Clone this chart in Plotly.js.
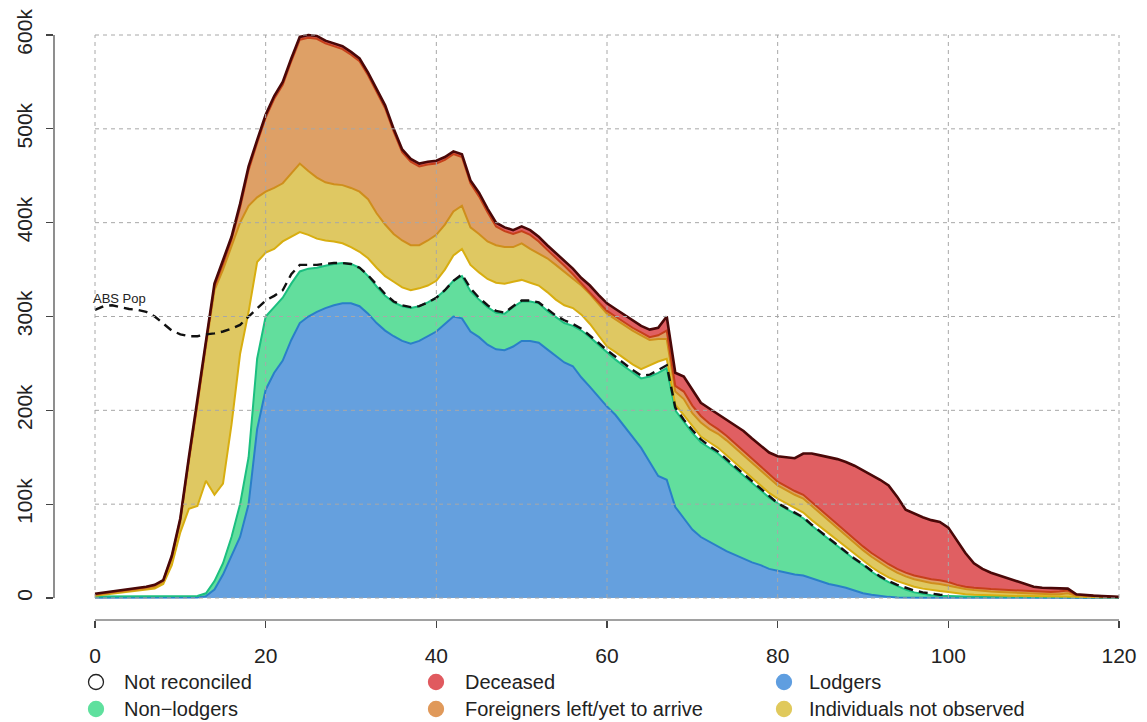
<!DOCTYPE html>
<html>
<head>
<meta charset="utf-8">
<script src="https://cdn.plot.ly/plotly-3.0.1.min.js"></script>
<style>
  html, body { margin: 0; padding: 0; background: #ffffff; }
  #chart { width: 1147px; height: 722px; }
</style>
</head>
<body>
<div id="chart"></div>
<script>
// Age in years
const ages = [0,1,2,3,4,5,6,7,8,9,10,11,12,13,14,15,16,17,18,19,20,
  21,22,23,24,25,26,27,28,29,30,31,32,33,34,35,36,37,38,39,40,
  41,42,43,44,45,46,47,48,49,50,51,52,53,54,55,56,57,58,59,60,
  61,62,63,64,65,66,67,68,69,70,71,72,73,74,75,76,77,78,79,80,
  81,82,83,84,85,86,87,88,89,90,91,92,93,94,95,96,97,98,99,100,
  101,102,103,104,105,106,107,108,109,110,111,112,113,114,115,116,117,118,119,120];

// Counts in thousands, stacked from bottom to top
const lodgers = [0.3,0.3,0.3,0.3,0.3,0.4,0.4,0.4,0.5,0.5,0.5,0.5,0.6,
  2,9,25,45,65,100,180,222,
  240,253,275,293,300,305,309,312,314,314,
  311,303,293,285,279,274,271,274,279,284,
  292,300,298,284,278,270,265,264,268,274,
  274,272,265,258,251,247,235,225,214,204,
  195,183,172,160,145,130,126,97,85,73,
  65,60,55,50,46,42,38,35,31,29,
  27,25,24,21,18,15,13,11,8,5,
  3.5,2,1.2,0.6,0.3,0.3,0.3,0.3,0.3,0.3,
  0.3,0.3,0.3,0.3,0.2,0.2,0.2,0.2,0.2,0.2,
  0.2,0.2,0.2,0.2,0.1,0.1,0.1,0.1,0.1,0.1];

const nonLodgers = [1.2,1.2,1.3,1.3,1.4,1.3,1.4,1.5,1.5,1.5,1.5,1.5,1.6,
  3,9,12,20,35,50,75,78,
  70,67,60,55,51,47,45,44,43,42,
  41,40,39,37,36,37,38,37,36,36,
  36,38,45,43,40,40,39,39,42,42,
  42,42,41,41,42,43,50,53,56,57,
  59,64,68,74,91,110,119,103,103,103,
  101,100,99,96,92,88,84,79,76,72,
  68,65,61,56,52,48,42,37,33,30,
  24.5,20,15.8,12.4,8.7,5.7,4.2,2.7,2.2,1.7,
  1.5,1.4,1.3,1.2,1.3,1.2,1.2,1.1,1.1,1.0,
  1.0,0.9,0.9,0.8,0.8,0.7,0.6,0.5,0.4,0.4];

const notReconciled = [1.0,2.0,2.9,3.9,4.8,5.8,6.7,8.1,13,33,68,93,95.8,
  120,92,85,120,160,155,103,68,
  62,60,50,42,36,31,27,24,21,18,
  17,19,20,21,22,20,19,19,18,18,
  22,27,29,28,29,30,32,32,27,23,
  20,19,20,19,19,19,17,14,10,7,
  8,8,9,10,12,12,10,6,7,7,
  6,6,6,6,6,6,6,6,5,5,
  6,6,6,6,6,6,6,6,6,5,
  5,5,5,5,6,6,5.5,5.5,5,4.5,
  3.2,2.3,1.9,1.5,1.3,1.2,1.0,0.9,0.8,0.8,
  0.7,0.7,0.6,0.6,0.4,0.3,0.3,0.3,0.3,0.2];

const notObserved = [0.8,0.9,1.0,1.1,1.3,1.4,1.5,2.0,2.5,7,11,50,106,
  143,218,228,190,140,113,69,65,
  65,62,67,73,68,65,62,61,62,63,
  64,63,58,55,51,50,48,46,48,49,
  48,47,46,40,41,40,40,39,37,39,
  36,34,36,37,36,32,31,32,34,35,
  35,36,36,36,27,24,21,14,17,14,
  15,14,15,16,16,16,16,15,15,14,
  14,14,15,15,14,13,13,12,11,11,
  11,11,10,9,8,8,8,7.5,7.5,6.5,
  6,5.5,5,4.5,4.2,3.9,3.6,3.3,2.9,2.5,
  2.1,2.2,2.3,3.4,1.2,0.9,0.8,0.6,0.4,0.3];

const foreigners = [0.7,0.8,1.0,1.1,1.2,1.3,1.5,1.5,1.0,2,3,3,3,
  4,4,6,7,16,38,58,79,
  95,105,120,132,142,148,148,147,145,142,
  139,132,130,124,109,94,89,84,81,76,
  69,61,52,47,40,31,20,17,14,13,
  15,13,9,8,6,4,2,2,2,3,
  3,3,3,3,3,4,9,6,8,8,
  7,6,5,5,5,5,5,5,5,4,
  4,4,4,4,4,4,4,4,4,4,
  4,4,4,4,4,4,4,4,4,4,
  3,2.5,2.5,2.5,2.5,2.5,2.5,2.5,2.5,2.5,
  2.5,2.5,3,3,1.0,0.8,0.5,0.3,0.2,0.1];

const deceased = [0.5,0.5,0.5,0.5,0.5,0.5,0.5,0.5,0.5,1,1,2,3,
  3,3,4,3,4,4,3,3,
  3,3,3,3,3,3,3,3,3,3,
  3,3,3,3,3,3,3,3,3,3,
  3,3,3,3,4,4,4,4,4,5,
  5,5,5,5,6,6,6,7,7,8,
  8,8,8,7,8,8,15,14,16,17,
  14,16,16,17,19,21,21,22,23,27,
  31,35,44,52,58,64,70,75,79,81,
  83,84,84,77,67,66,64,63,62,58,
  48,36,26,21,17.5,15,12.5,10,7.5,5,
  4.5,4,3.5,2,0.5,0.2,0.2,0.2,0.1,0.1];

// ABS population (thousands), ages 0..100
const absPop = [307,311,312,310,308,307,305,300,292,285,281,
  279,279,281,282,284,287,291,300,309,317,
  322,328,345,355,355,355,356,357,357,356,
  352,344,334,324,316,312,310,311,315,320,
  328,338,345,330,320,312,306,304,311,317,
  317,315,308,301,296,292,287,280,272,264,
  257,250,243,237,238,243,248,203,190,179,
  169,162,156,148,140,132,124,116,108,101,
  96,91,86,78,71,64,56,49,42,36,
  29,23,18,14,11,8,6,4.5,3.5,3];

const xTicks = [0,20,40,60,80,100,120];
const yTicks = [0,100,200,300,400,500,600];
const yTickText = ['0','100k','200k','300k','400k','500k','600k'];

const seriesDefs = [
  {name:'Lodgers', y:lodgers, fill:'#65a0de', line:'#2a7fc8', w:2},
  {name:'Non\u2212lodgers', y:nonLodgers, fill:'#62de9d', line:'#1cbf80', w:2},
  {name:'Not reconciled', y:notReconciled, fill:'#ffffff', line:'#d8ae10', w:2},
  {name:'Individuals not observed', y:notObserved, fill:'#dfc862', line:'#cf8e1c', w:2},
  {name:'Foreigners left/yet to arrive', y:foreigners, fill:'#dea066', line:'#c6401a', w:2},
  {name:'Deceased', y:deceased, fill:'#e05f62', line:'#4a0808', w:2.6}
];

const traces = seriesDefs.map(s => ({
  type:'scatter', mode:'lines', x:ages, y:s.y, name:s.name,
  stackgroup:'one', fillcolor:s.fill,
  line:{color:s.line, width:s.w, shape:'linear'},
  hoverinfo:'skip', showlegend:false
}));

traces.push({
  type:'scatter', mode:'lines', x:ages.slice(0, absPop.length), y:absPop,
  name:'ABS Pop', line:{color:'#111111', width:2.4, dash:'9px,6px'},
  hoverinfo:'skip', showlegend:false
});

// layout geometry (pixels)
const ML = 54, MT = 12, MR = 0, MB = 102;
const PW = 1147 - ML - MR, PH = 722 - MT - MB;
const px2x = p => (p - ML) / PW;
const py2y = p => (MT + PH - p) / PH;

const shapes = [];
const gridStyle = {color:'#a8a8a8', width:1, dash:'4px,4px'};
xTicks.forEach(v => shapes.push({type:'line', xref:'x', yref:'y', x0:v, x1:v,
  y0:yTicks[0], y1:yTicks[yTicks.length-1], line:gridStyle, layer:'above'}));
yTicks.forEach(v => shapes.push({type:'line', xref:'x', yref:'y', x0:xTicks[0],
  x1:xTicks[xTicks.length-1], y0:v, y1:v, line:gridStyle, layer:'above'}));
// axis lines (R style, spanning the tick range only)
shapes.push({type:'line', xref:'x', yref:'paper', x0:xTicks[0], x1:xTicks[xTicks.length-1],
  y0:0, y1:0, line:{color:'#444', width:1.2}});
shapes.push({type:'line', xref:'paper', yref:'y', x0:0, x1:0, y0:yTicks[0],
  y1:yTicks[yTicks.length-1], line:{color:'#444', width:1.2}});

// legend (3 columns x 2 rows)
const legendItems = [
  {label:'Not reconciled', fill:'#ffffff', line:'#222222', cx:96, cy:682, tx:122},
  {label:'Deceased', fill:'#e05a5f', line:'#e05a5f', cx:436, cy:682, tx:463},
  {label:'Lodgers', fill:'#5f9ee0', line:'#5f9ee0', cx:784, cy:682, tx:807},
  {label:'Non\u2212lodgers', fill:'#5fe09e', line:'#5fe09e', cx:96, cy:709, tx:122},
  {label:'Foreigners left/yet to arrive', fill:'#e0995a', line:'#e0995a', cx:436, cy:709, tx:463},
  {label:'Individuals not observed', fill:'#e0c95c', line:'#e0c95c', cx:784, cy:709, tx:807}
];
const annotations = [];
legendItems.forEach(it => {
  shapes.push({type:'circle', xref:'paper', yref:'paper', xsizemode:'pixel', ysizemode:'pixel',
    xanchor:px2x(it.cx), yanchor:py2y(it.cy), x0:-7.5, x1:7.5, y0:-7.5, y1:7.5,
    fillcolor:it.fill, line:{color:it.line, width:1.3}});
  annotations.push({xref:'paper', yref:'paper', x:px2x(it.tx), y:py2y(it.cy),
    xanchor:'left', yanchor:'middle', text:it.label, showarrow:false,
    font:{family:'Liberation Sans, Arial, sans-serif', size:20, color:'#222'}});
});
annotations.push({xref:'paper', yref:'paper', x:px2x(91), y:py2y(298), xanchor:'left',
  yanchor:'middle', text:'ABS Pop', showarrow:false,
  font:{family:'Liberation Sans, Arial, sans-serif', size:13, color:'#222'}});

const pxPerYear = (1119 - 95) / 120;
const kPerPx = 600 / (598 - 35);
const layout = {
  width:1147, height:722,
  margin:{l:ML, r:MR, t:MT, b:MB, pad:0},
  paper_bgcolor:'#ffffff', plot_bgcolor:'#ffffff',
  showlegend:false,
  font:{family:'Liberation Sans, Arial, sans-serif', color:'#222'},
  xaxis:{
    range:[-(95 - ML) / pxPerYear, (1147 - MR - 95) / pxPerYear],
    tickmode:'array', tickvals:xTicks, ticktext:xTicks.map(String),
    ticks:'outside', ticklen:7, tickwidth:1.2, tickcolor:'#444',
    showgrid:false, zeroline:false, showline:false,
    tickfont:{size:21, color:'#222'}, ticklabelstandoff:10
  },
  yaxis:{
    range:[-(MT + PH - 598) * kPerPx, (598 - MT) * kPerPx],
    tickmode:'array', tickvals:yTicks, ticktext:yTickText,
    ticks:'outside', ticklen:7, tickwidth:1.2, tickcolor:'#444',
    tickangle:-90, showgrid:false, zeroline:false, showline:false,
    tickfont:{size:21, color:'#222'}, ticklabelstandoff:6
  },
  shapes:shapes,
  annotations:annotations
};

Plotly.newPlot('chart', traces, layout, {staticPlot:true, displayModeBar:false});
</script>
</body>
</html>
